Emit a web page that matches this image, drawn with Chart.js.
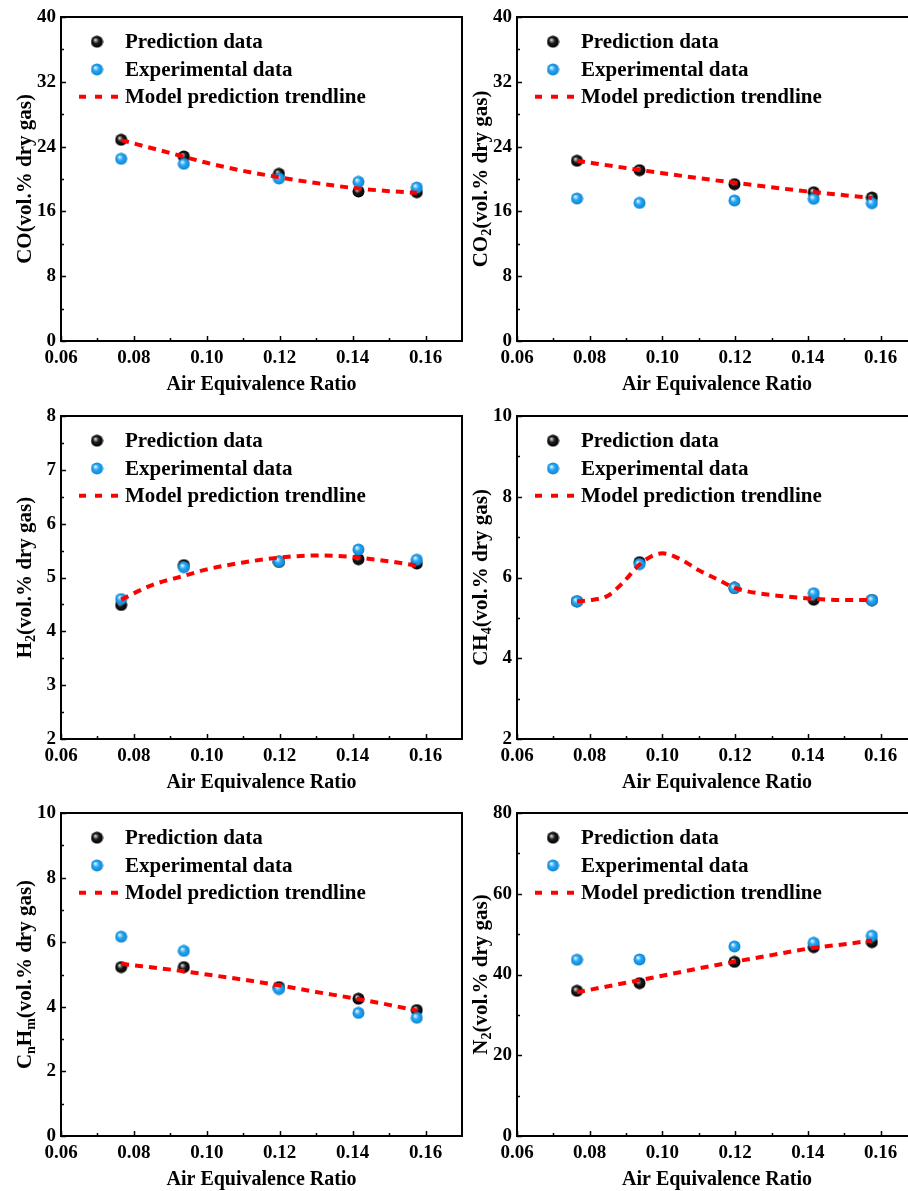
<!DOCTYPE html>
<html>
<head>
<meta charset="utf-8">
<title>Syngas composition vs. air equivalence ratio</title>
<script src="https://cdn.jsdelivr.net/npm/chart.js@4.4.0/dist/chart.umd.min.js"></script>
<style>
  html, body { margin: 0; padding: 0; background: #fff; }
  #page { position: relative; width: 908px; height: 1191px; overflow: hidden; background: #fff; }
  .panel { position: absolute; }
  .panel canvas { display: block; }
</style>
</head>
<body>
<div id="page">
  <div class="panel" style="left:0;top:0"><canvas id="c0" width="475" height="395"></canvas></div>
  <div class="panel" style="left:454px;top:0"><canvas id="c1" width="475" height="395"></canvas></div>
  <div class="panel" style="left:0;top:395px"><canvas id="c2" width="475" height="397"></canvas></div>
  <div class="panel" style="left:454px;top:395px"><canvas id="c3" width="475" height="397"></canvas></div>
  <div class="panel" style="left:0;top:790px"><canvas id="c4" width="475" height="401"></canvas></div>
  <div class="panel" style="left:454px;top:790px"><canvas id="c5" width="475" height="401"></canvas></div>
</div>
<script>
// ---- data ----
const airRatio = [0.0765, 0.0937, 0.1198, 0.1416, 0.1576];
const xTicks = [0.06, 0.08, 0.10, 0.12, 0.14, 0.16];
const xTickLabels = ['0.06', '0.08', '0.10', '0.12', '0.14', '0.16'];
const xTitle = 'Air Equivalence Ratio';
const legendLabels = ['Prediction data', 'Experimental data', 'Model prediction trendline'];

const coPred = [24.84, 22.78, 20.64, 18.46, 18.37];
const coExp = [22.49, 21.87, 20.06, 19.65, 18.95];
const coTrendX = [0.0765, 0.09, 0.10, 0.11, 0.12, 0.13, 0.14, 0.15, 0.1576];
const coTrendY = [24.8, 23.2, 22.0, 21.0, 20.2, 19.5, 18.9, 18.5, 18.3];
const coTicks = [0, 8, 16, 24, 32, 40];

const co2Pred = [22.25, 21.09, 19.36, 18.37, 17.71];
const co2Exp = [17.59, 17.05, 17.34, 17.55, 17.01];
const co2TrendX = [0.0765, 0.09, 0.10, 0.11, 0.12, 0.13, 0.14, 0.15, 0.1576];
const co2TrendY = [22.25, 21.36, 20.72, 20.1, 19.53, 18.98, 18.46, 18.0, 17.67];
const co2Ticks = [0, 8, 16, 24, 32, 40];

const h2Pred = [4.49, 5.23, 5.29, 5.34, 5.26];
const h2Exp = [4.60, 5.19, 5.30, 5.52, 5.33];
const h2TrendX = [0.0765, 0.085, 0.0937, 0.10, 0.11, 0.12, 0.13, 0.14, 0.15, 0.1576];
const h2TrendY = [4.59, 4.86, 5.03, 5.15, 5.28, 5.37, 5.41, 5.38, 5.30, 5.22];
const h2Ticks = [2, 3, 4, 5, 6, 7, 8];

const ch4Pred = [5.41, 6.38, 5.74, 5.45, 5.44];
const ch4Exp = [5.41, 6.33, 5.74, 5.61, 5.44];
const ch4TrendX = [0.0765, 0.081, 0.085, 0.089, 0.0937, 0.0975, 0.10, 0.105, 0.11, 0.115, 0.12, 0.127, 0.134, 0.1416, 0.15, 0.1576];
const ch4TrendY = [5.41, 5.45, 5.55, 5.86, 6.32, 6.55, 6.60, 6.45, 6.18, 5.96, 5.74, 5.60, 5.53, 5.47, 5.44, 5.44];
const ch4Ticks = [2, 4, 6, 8, 10];

const cnhmPred = [5.23, 5.23, 4.61, 4.25, 3.90];
const cnhmExp = [6.17, 5.73, 4.55, 3.81, 3.66];
const cnhmTrendX = [0.0765, 0.0937, 0.10, 0.11, 0.12, 0.13, 0.14, 0.15, 0.1576];
const cnhmTrendY = [5.33, 5.10, 5.00, 4.84, 4.66, 4.46, 4.27, 4.06, 3.88];
const cnhmTicks = [0, 2, 4, 6, 8, 10];

const n2Pred = [35.95, 37.85, 43.14, 46.78, 48.02];
const n2Exp = [43.64, 43.72, 46.94, 47.85, 49.59];
const n2TrendX = [0.0765, 0.0937, 0.10, 0.11, 0.12, 0.13, 0.14, 0.15, 0.1576];
const n2TrendY = [35.6, 38.6, 39.7, 41.5, 43.2, 44.8, 46.4, 47.5, 48.4];
const n2Ticks = [0, 20, 40, 60, 80];

// y-axis titles as [text, isSubscript] runs
const coTitle = [['CO', false], ['(vol.% dry gas)', false]];
const co2Title = [['CO', false], ['2', true], ['(vol.% dry gas)', false]];
const h2Title = [['H', false], ['2', true], ['(vol.% dry gas)', false]];
const ch4Title = [['CH', false], ['4', true], ['(vol.% dry gas)', false]];
const cnhmTitle = [['C', false], ['n', true], ['H', false], ['m', true], ['(vol.% dry gas)', false]];
const n2Title = [['N', false], ['2', true], ['(vol.% dry gas)', false]];

// ---- styling ----
const SERIF = "'Liberation Serif', 'Times New Roman', Times, serif";
Chart.defaults.font.family = SERIF;
Chart.defaults.font.weight = 'bold';
Chart.defaults.font.size = 19;
Chart.defaults.color = '#000';

function sphere(light, base, dark) {
  const s = 13, c = document.createElement('canvas');
  c.width = s; c.height = s;
  const g = c.getContext('2d');
  const cx = s / 2, cy = s / 2, r = 6;
  const grad = g.createRadialGradient(cx - 1.8, cy - 2, 0.3, cx, cy, r);
  grad.addColorStop(0, light);
  grad.addColorStop(0.45, base);
  grad.addColorStop(1, dark);
  g.fillStyle = grad;
  g.beginPath(); g.arc(cx, cy, r, 0, Math.PI * 2); g.fill();
  return c;
}
const blackBall = sphere('#e0e0e0', '#1c1c1c', '#000000');
const blueBall = sphere('#eaf7ff', '#25a5f3', '#0c86d4');
const TREND_RED = '#ff0000';

function midpoints(arr) {
  const out = [];
  for (let i = 0; i < arr.length - 1; i++) out.push((arr[i] + arr[i + 1]) / 2);
  return out;
}

function drawRich(ctx, runs, size) {
  const subSize = Math.round(size * 0.68);
  const widths = runs.map(([t, sub]) => {
    ctx.font = `bold ${sub ? subSize : size}px ${SERIF}`;
    return ctx.measureText(t).width;
  });
  const total = widths.reduce((a, b) => a + b, 0);
  let x = -total / 2;
  ctx.textAlign = 'left';
  ctx.textBaseline = 'alphabetic';
  runs.forEach(([t, sub], i) => {
    ctx.font = `bold ${sub ? subSize : size}px ${SERIF}`;
    ctx.fillText(t, x, sub ? size * 0.32 + 4 : 7);
    x += widths[i];
  });
}

// frame, inward tick marks, legend and axis titles
const decorPlugin = {
  id: 'decor',
  beforeDatasetsDraw(chart) {
    const { ctx, chartArea: a, scales } = chart;
    const o = chart.options.plugins.decor;
    ctx.save();
    ctx.strokeStyle = '#000';
    ctx.lineWidth = 1.5;
    ctx.beginPath();
    xTicks.forEach(v => {
      const p = Math.round(scales.x.getPixelForValue(v)) + 0.5;
      ctx.moveTo(p, a.bottom); ctx.lineTo(p, a.bottom - 5);
    });
    midpoints(xTicks.concat([0.18])).forEach(v => {
      const p = Math.round(scales.x.getPixelForValue(v)) + 0.5;
      if (p < a.right - 2) { ctx.moveTo(p, a.bottom); ctx.lineTo(p, a.bottom - 3); }
    });
    o.yTicks.forEach(v => {
      const p = Math.round(scales.y.getPixelForValue(v)) + 0.5;
      ctx.moveTo(a.left, p); ctx.lineTo(a.left + 5, p);
    });
    midpoints(o.yTicks).forEach(v => {
      const p = Math.round(scales.y.getPixelForValue(v)) + 0.5;
      ctx.moveTo(a.left, p); ctx.lineTo(a.left + 3, p);
    });
    ctx.stroke();
    ctx.lineWidth = 2;
    ctx.strokeRect(a.left, a.top, a.right - a.left, a.bottom - a.top);
    ctx.restore();
  },
  afterDraw(chart) {
    const { ctx, chartArea: a } = chart;
    const o = chart.options.plugins.decor;
    const ds = chart.data.datasets;
    ctx.save();
    // legend
    const rows = [a.top + 24.7, a.top + 52.5, a.top + 79.7];
    ctx.drawImage(ds[0].pointStyle, a.left + 36 - 6.5, rows[0] - 6.5);
    ctx.drawImage(ds[1].pointStyle, a.left + 36 - 6.5, rows[1] - 6.5);
    ctx.strokeStyle = ds[2].borderColor;
    ctx.lineWidth = 4;
    ctx.setLineDash([7, 9]);
    ctx.beginPath(); ctx.moveTo(a.left + 18, rows[2]); ctx.lineTo(a.left + 58, rows[2]); ctx.stroke();
    ctx.setLineDash([]);
    ctx.fillStyle = '#000';
    ctx.font = `bold 21px ${SERIF}`;
    ctx.textAlign = 'left';
    ctx.textBaseline = 'middle';
    ds.forEach((d, i) => ctx.fillText(d.label, a.left + 64, rows[i] + 1));
    // x title
    ctx.font = `bold 20px ${SERIF}`;
    ctx.textAlign = 'center';
    ctx.fillText(xTitle, (a.left + a.right) / 2, a.bottom + 44);
    // y title (rotated, with subscripts)
    ctx.translate(a.left - 37, (a.top + a.bottom) / 2);
    ctx.rotate(-Math.PI / 2);
    drawRich(ctx, o.yTitle, 21);
    ctx.restore();
  }
};

const panels = [
  { id: 'c0', pred: coPred, exp: coExp, tx: coTrendX, ty: coTrendY, yTicks: coTicks, yTitle: coTitle, col: 0, row: 0 },
  { id: 'c1', pred: co2Pred, exp: co2Exp, tx: co2TrendX, ty: co2TrendY, yTicks: co2Ticks, yTitle: co2Title, col: 1, row: 0 },
  { id: 'c2', pred: h2Pred, exp: h2Exp, tx: h2TrendX, ty: h2TrendY, yTicks: h2Ticks, yTitle: h2Title, col: 0, row: 1 },
  { id: 'c3', pred: ch4Pred, exp: ch4Exp, tx: ch4TrendX, ty: ch4TrendY, yTicks: ch4Ticks, yTitle: ch4Title, col: 1, row: 1 },
  { id: 'c4', pred: cnhmPred, exp: cnhmExp, tx: cnhmTrendX, ty: cnhmTrendY, yTicks: cnhmTicks, yTitle: cnhmTitle, col: 0, row: 2 },
  { id: 'c5', pred: n2Pred, exp: n2Exp, tx: n2TrendX, ty: n2TrendY, yTicks: n2Ticks, yTitle: n2Title, col: 1, row: 2 }
];

// layout of the plot boxes inside each canvas
const colLayout = [{ yWidth: 61, right: 13 }, { yWidth: 63, right: 12 }];
const rowLayout = [{ top: 17, xHeight: 54 }, { top: 21, xHeight: 53 }, { top: 23, xHeight: 55 }];

panels.forEach(p => {
  const c = colLayout[p.col], r = rowLayout[p.row];
  const yTicks = p.yTicks;
  new Chart(document.getElementById(p.id), {
    type: 'scatter',
    data: {
      datasets: [
        {
          label: legendLabels[0],
          data: airRatio.map((x, i) => ({ x, y: p.pred[i] })),
          pointStyle: blackBall, pointRadius: 6, order: 3
        },
        {
          label: legendLabels[1],
          data: airRatio.map((x, i) => ({ x, y: p.exp[i] })),
          pointStyle: blueBall, pointRadius: 6, order: 2
        },
        {
          label: legendLabels[2],
          data: p.tx.map((x, i) => ({ x, y: p.ty[i] })),
          showLine: true, pointRadius: 0, borderColor: TREND_RED, backgroundColor: TREND_RED,
          borderWidth: 4, borderDash: [8, 6], cubicInterpolationMode: 'monotone', order: 1
        }
      ]
    },
    options: {
      responsive: false,
      animation: false,
      devicePixelRatio: 1,
      layout: { padding: { top: r.top, right: c.right, left: 0, bottom: 0 } },
      plugins: {
        legend: { display: false },
        tooltip: { enabled: false },
        decor: { yTicks, yTitle: p.yTitle }
      },
      scales: {
        x: {
          type: 'linear', min: 0.06, max: 0.17,
          afterBuildTicks: s => { s.ticks = xTicks.map(v => ({ value: v })); },
          afterFit: s => { s.height = r.xHeight; },
          ticks: { callback: (v, i) => xTickLabels[i], padding: 6, maxRotation: 0, autoSkip: false, font: { size: 19, weight: 'bold' } },
          grid: { display: false, drawTicks: false },
          border: { display: false }
        },
        y: {
          type: 'linear', min: yTicks[0], max: yTicks[yTicks.length - 1],
          afterBuildTicks: s => { s.ticks = yTicks.map(v => ({ value: v })); },
          afterFit: s => { s.width = c.yWidth; },
          ticks: { callback: v => String(v), padding: 5, autoSkip: false, font: { size: 19, weight: 'bold' } },
          grid: { display: false, drawTicks: false },
          border: { display: false }
        }
      }
    },
    plugins: [decorPlugin]
  });
});
</script>
</body>
</html>
